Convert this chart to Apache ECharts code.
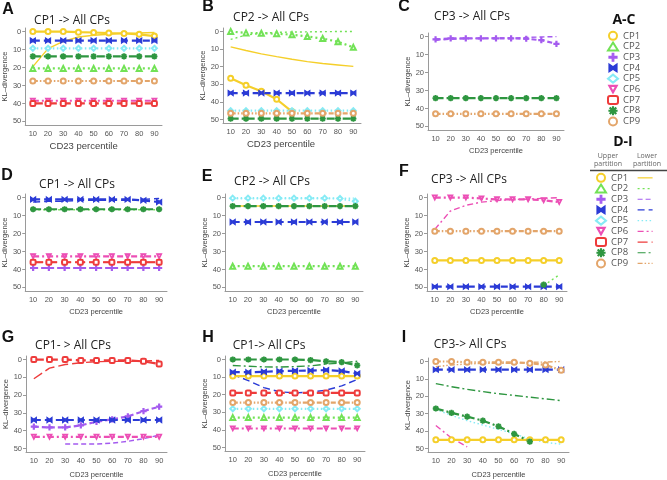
<!DOCTYPE html>
<html><head><meta charset="utf-8">
<script src="https://cdn.jsdelivr.net/npm/echarts@6/dist/echarts.min.js"></script>
<style>html,body{margin:0;padding:0;background:#fff}#c{width:667px;height:480px}</style>
</head><body><div id="c"></div>
<script>
// ---------- data ----------
const cats = ['10','20','30','40','50','60','70','80','90'];
const yTicks = [0,10,20,30,40,50];
const cpNames = ['CP1','CP2','CP3','CP4','CP5','CP6','CP7','CP8','CP9'];
const N = null;

// Panel A: CP1 -> All CPs
const A_up_CP1 = [0,0,0,0.3,0.5,0.8,1,1.5,2.5];
const A_low_CP1 = [19.5,9.5,5.5,3,2,1.5,1,0.8,0.5];
const A_up_CP4 = [5,5,5,5,5,5,5,5,5];
const A_up_CP5 = [9.3,9.3,9.3,9.3,9.3,9.3,9.3,9.3,9.3];
const A_up_CP8 = [13.8,13.8,13.8,13.8,13.8,13.8,13.8,13.8,13.8];
const A_up_CP2 = [20.5,20.5,20.5,20.5,20.5,20.5,20.5,20.5,20.5];
const A_up_CP9 = [27.5,27.5,27.5,27.5,27.5,27.5,27.5,27.5,27.5];
const A_up_CP6 = [38.5,38.5,38.5,38.5,38.5,38.5,38.5,38.5,38.5];
const A_up_CP7 = [40,40,40,40,40,40,40,40,40];

// Panel B: CP2 -> All CPs
const B_up_CP2 = [0,0.8,1,1.2,1.8,2.8,4,5.8,9];
const B_low_CP2 = [4.5,2,1,0.5,0.3,0.2,0.1,0,0];
const B_low_CP1 = [8.7,10.8,12.7,14.3,15.8,17.1,18.2,19,19.8];
const B_up_CP1 = [26.5,30.5,34,38.5,45.5,N,N,N,N];
const B_up_CP4 = [35,35,35,35,35,35,35,35,35];
const B_up_CP5 = [45,45,45,45,45,45,45,45,45];
const B_up_CP9 = [46.5,46.5,46.5,46.5,46.5,46.5,46.5,46.5,46.5];
const B_up_CP8 = [49.5,49.5,49.5,49.5,49.5,49.5,49.5,49.5,49.5];

// Panel C: CP3 -> All CPs
const C_up_CP3 = [1.5,1,1,1,1,1,1.2,2,4];
const C_low_CP3 = [2,1.5,1,1,0.8,0.8,0.5,0.2,0];
const C_up_CP8 = [34.3,34.3,34.3,34.3,34.3,34.3,34.3,34.3,34.3];
const C_up_CP9 = [43,43,43,43,43,43,43,43,43];

// Panel D: CP1 -> All CPs
const D_up_CP4 = [1,1,1,1,1,1,1,1.5,2.5];
const D_low_CP4 = [2.5,2,2,1.5,1.5,1.5,1.5,1,0.5];
const D_up_CP8 = [6.5,6.5,6.5,6.5,6.5,6.5,6.5,6.5,6.5];
const D_low_CP2 = [6.8,6.8,6.8,6.8,6.8,6.8,6.8,6.8,6.8];
const D_up_CP6 = [32.7,32.7,32.7,32.7,32.7,32.7,32.7,32.7,32.7];
const D_up_CP7 = [36,36,36,36,36,36,36,36,36];
const D_low_CP7 = [36,36,36,36,36,36,36,36,36];
const D_up_CP3 = [39.2,39.2,39.2,39.2,39.2,39.2,39.2,39.2,39.2];

// Panel E: CP2 -> All CPs
const E_up_CP5 = [0.3,0.3,0.3,0.3,0.3,0.3,0.3,0.5,2];
const E_low_CP5 = [0.6,0.6,0.5,0.5,0.5,0.5,0.5,0.4,0.3];
const E_low_CP1 = [4.7,4.7,4.7,4.7,4.7,4.7,4.7,4.7,4.7];
const E_up_CP8 = [4.7,4.7,4.7,4.7,4.7,4.7,4.7,4.7,4.7];
const E_up_CP4 = [13.6,13.6,13.6,13.6,13.6,13.6,13.6,13.6,13.6];
const E_up_CP2 = [38.2,38.2,38.2,38.2,38.2,38.2,38.2,38.2,38.2];

// Panel F: CP3 -> All CPs
const F_up_CP6 = [0,0,0,0.5,1,1,1,1.5,2.5];
const F_low_CP6 = [17.7,7.5,4.3,2.5,1.7,1.1,0.8,0.4,0];
const F_up_CP9 = [18.7,18.7,18.7,18.7,18.7,18.7,18.7,18.7,18.7];
const F_up_CP1 = [35,35,35,35,35,35,35,35,35];
const F_up_CP4 = [49.6,49.6,49.6,49.6,49.6,49.6,49.6,49.6,49.6];
const F_low_CP2 = [N,N,N,N,N,N,N,49,43];
const F_up_CP8 = [N,N,N,N,N,N,N,48.5,N];

// Panel G: CP1 -> All CPs
const G_up_CP7 = [0,0,0,0.5,0.5,0.5,0.5,1,2.5];
const G_low_CP7 = [10.8,4.8,2.8,1.8,1.2,1,1,0.8,0.5];
const G_up_CP4 = [34,34,34,34,34,34,34,34,34];
const G_up_CP3 = [37.7,38.2,38.2,37,35,33.6,32,29,26.5];
const G_up_CP6 = [43.5,43.5,43.5,43.5,43.5,43.5,43.5,43.5,43.5];
const G_low_CP3 = [N,N,47.5,47.5,47.5,47,46,44.5,42.5];

// Panel H: CP1 -> All CPs
const H_up_CP8 = [0,0,0,0,0,0.3,1,1.5,3.3];
const H_low_CP8 = [3.4,3.8,4.2,4.3,4,3.6,2.6,2,1];
const H_up_CP4 = [7.2,7.2,7,6.6,6.4,6.3,6,6.5,8];
const H_low_CP4 = [8.5,12,16,18.3,19,18.5,17.4,15,11.3];
const H_up_CP1 = [9.4,9.4,9.4,9.4,9.4,9.4,9.4,9.4,9.4];
const H_low_CP1 = [9.4,9.4,9.4,9.4,9.4,9.4,9.4,9.4,9.4];
const H_up_CP7 = [19,19,19,19,19,19,19,19,19];
const H_up_CP9 = [24.5,24.5,24.5,24.5,24.5,24.5,24.5,24.5,24.5];
const H_up_CP5 = [28,28,28,28,28,28,28,28,28];
const H_up_CP2 = [33,33,33,33,33,33,33,33,33];
const H_up_CP6 = [39.2,39.2,39.2,39.2,39.2,39.2,39.2,39.2,39.2];

// Panel I: CP3 -> All CPs
const I_up_CP9 = [0,0,0.5,0.5,0.5,0.5,1,2,5];
const I_low_CP9 = [3,2,1.5,1,1,1,0.5,0.3,0];
const I_up_CP4 = [4.7,4.7,4.7,4.7,4.7,4.7,4.7,4.7,4.7];
const I_low_CP8 = [12.7,14.5,16,17.3,18.5,19.5,20.5,21.5,22.5];
const I_up_CP8 = [27,29.5,31.7,34,37.3,41.6,46,N,N];
const I_low_CP5 = [27.5,31,34,36.5,39,41.5,44.5,46.5,47.5];
const I_up_CP1 = [45,45,45,45,45,45,45,45,45];
const I_low_CP1 = [45,45,45,45,45,45,45,45,45];
const I_low_CP6 = [36.8,44,49,N,N,N,N,N,N];

// ---------- styles ----------
const COL = ['#F5CF2A','#72E256','#A45BEF','#2B3BD6','#86EBF5','#EC4FB5','#EE3B3B','#2E9640','#E3A56A'];
const DASH = ['solid',[2,3],[5,3],[7,4],[1.5,2.5],[6,3,2,3],[10,4],[8,3,2,3],[5,2,1.5,2,1.5,2]];
const PLUS = 'path://M4,0H6V4H10V6H6V10H4V6H0V4H4Z';
const BOWTIE = 'path://M0,0L5,3.5L10,0V10L5,6.5L0,10Z';
const STAR = 'path://M4.4,0H5.6V10H4.4Z M0,4.4H10V5.6H0Z M1,1.8L1.8,1L9,8.2L8.2,9Z M8.2,1L9,1.8L1.8,9L1,8.2Z';
const INVTRI = 'path://M0,0H10L5,9Z M1.9,1.1L5,6.7L8.1,1.1Z';
const SYM = ['emptyCircle','emptyTriangle',PLUS,BOWTIE,'emptyDiamond',INVTRI,'emptyRoundRect',STAR,'emptyCircle'];

const grids = [
  {left:23, top:28, width:139, height:97},
  {left:223, top:28, width:138, height:95},
  {left:428, top:33, width:136, height:97},
  {left:25, top:194, width:142, height:97},
  {left:225, top:194, width:138, height:97},
  {left:427, top:194, width:140, height:97},
  {left:26, top:356, width:141, height:96},
  {left:225, top:356, width:140, height:95},
  {left:428, top:358, width:141, height:96}
];

const panels = [
  {up:{1:A_up_CP1,4:A_up_CP4,5:A_up_CP5,8:A_up_CP8,2:A_up_CP2,9:A_up_CP9,6:A_up_CP6,7:A_up_CP7}, low:{1:A_low_CP1}},
  {up:{2:B_up_CP2,1:B_up_CP1,4:B_up_CP4,5:B_up_CP5,9:B_up_CP9,8:B_up_CP8}, low:{2:B_low_CP2,1:B_low_CP1}},
  {up:{3:C_up_CP3,8:C_up_CP8,9:C_up_CP9}, low:{3:C_low_CP3}},
  {up:{4:D_up_CP4,8:D_up_CP8,6:D_up_CP6,7:D_up_CP7,3:D_up_CP3}, low:{4:D_low_CP4,2:D_low_CP2,7:D_low_CP7}},
  {up:{5:E_up_CP5,8:E_up_CP8,4:E_up_CP4,2:E_up_CP2}, low:{5:E_low_CP5,1:E_low_CP1}},
  {up:{6:F_up_CP6,9:F_up_CP9,1:F_up_CP1,4:F_up_CP4,8:F_up_CP8}, low:{6:F_low_CP6,2:F_low_CP2}},
  {up:{7:G_up_CP7,4:G_up_CP4,3:G_up_CP3,6:G_up_CP6}, low:{7:G_low_CP7,3:G_low_CP3}},
  {up:{8:H_up_CP8,4:H_up_CP4,1:H_up_CP1,7:H_up_CP7,9:H_up_CP9,5:H_up_CP5,2:H_up_CP2,6:H_up_CP6}, low:{8:H_low_CP8,4:H_low_CP4,1:H_low_CP1}},
  {up:{9:I_up_CP9,4:I_up_CP4,8:I_up_CP8,1:I_up_CP1}, low:{9:I_low_CP9,8:I_low_CP8,5:I_low_CP5,1:I_low_CP1,6:I_low_CP6}}
];

const xNameCfg = [
  {gap:16, size:9.5, pad:[0,20,0,0]},
  {gap:16, size:9.5, pad:[0,22,0,0]},
  {gap:17, size:7.5, pad:0},
  {gap:17, size:7.5, pad:0},
  {gap:17, size:7.5, pad:0},
  {gap:17, size:7.5, pad:0},
  {gap:19, size:7.5, pad:0},
  {gap:19, size:7.5, pad:0},
  {gap:19, size:7.5, pad:0}
];

const AX = '#9a9a9a';
const xAxes = grids.map((g,i)=>({
  gridIndex:i, type:'category', data:cats, boundaryGap:true,
  axisLine:{onZero:false, lineStyle:{color:AX}},
  axisTick:{alignWithLabel:true, length:3, lineStyle:{color:AX}},
  axisLabel:{interval:0, fontSize:7.5, color:'#555', margin:5, fontFamily:'Liberation Sans'},
  name:'CD23 percentile', nameLocation:'middle', nameGap:xNameCfg[i].gap,
  nameTextStyle:{fontSize:xNameCfg[i].size, color:'#444', fontFamily:'Liberation Sans', padding:xNameCfg[i].pad}
}));
const yAxes = grids.map((g,i)=>({
  gridIndex:i, type:'value', inverse:true, min:-2, max:52,
  axisLine:{show:true, onZero:false, lineStyle:{color:AX}},
  axisTick:{show:true, length:3, customValues:yTicks, lineStyle:{color:AX}},
  axisLabel:{customValues:yTicks, fontSize:7.5, color:'#555', margin:4, fontFamily:'Liberation Sans'},
  splitLine:{show:false},
  name:'KL\u2013divergence', nameLocation:'middle', nameGap:15,
  nameTextStyle:{fontSize:7.5, color:'#444', fontFamily:'Liberation Sans'}
}));

function mk(pi, cp, data, upper){
  const i = cp-1;
  return {
    type:'line', name: upper ? cpNames[i] : cpNames[i]+' lower',
    xAxisIndex:pi, yAxisIndex:pi, data:data,
    symbol: upper ? SYM[i] : 'none', symbolSize: upper ? 5 : 0,
    showSymbol: upper,
    lineStyle:{color:COL[i], width: upper ? 2.2 : 1.4, type:DASH[i]},
    itemStyle:{color:COL[i], borderColor:COL[i], borderWidth:1.2},
    connectNulls:false, silent:true, clip:true, z: upper?3:2
  };
}
const series = [];
panels.forEach((p,pi)=>{
  Object.keys(p.low).forEach(k=>series.push(mk(pi, +k, p.low[k], false)));
  Object.keys(p.up).forEach(k=>series.push(mk(pi, +k, p.up[k], true)));
});

const upLegendData = cpNames.map((n,i)=>({name:n, icon:SYM[i]}));
const lowLegendData = cpNames.map(n=>n+' lower');
const legTxt = {fontSize:9.5, color:'#555', fontFamily:'Open Sans', lineHeight:10.7};

function txt(t,x,y,font,color,align){
  return {type:'text', x:x, y:y, silent:true, style:{text:t, font:font, fill:color||'#222', textAlign:align||'center', textVerticalAlign:'middle'}};
}
const LF = 'bold 16px "Liberation Sans"';
const TF = '12px "Open Sans"';
const graphics = [
  txt('A',8,10,LF,'#111'), txt('B',208,7,LF,'#111'), txt('C',404,7,LF,'#111'),
  txt('D',7,176,LF,'#111'), txt('E',207,177,LF,'#111'), txt('F',404,172,LF,'#111'),
  txt('G',8,338,LF,'#111'), txt('H',208,338,LF,'#111'), txt('I',404,338,LF,'#111'),
  txt('CP1 -> All CPs',72,21,TF), txt('CP2 -> All CPs',271,18,TF), txt('CP3 -> All CPs',472,17,TF),
  txt('CP1 -> All CPs',77,185,TF), txt('CP2 -> All CPs',272,182,TF), txt('CP3 -> All CPs',469,180,TF),
  txt('CP1- > All CPs',73,346,TF), txt('CP1-> All CPs',269,346,TF), txt('CP3-> All CPs',470,345,TF),
  txt('A-C',624,20,'bold 14px "Open Sans"','#111'), txt('D-I',623,142,'bold 14px "Open Sans"','#111'),
  txt('Upper',608,156,'7px "Open Sans"','#666'), txt('partition',608,164,'7px "Open Sans"','#666'),
  txt('Lower',647,156,'7px "Open Sans"','#666'), txt('partition',647,164,'7px "Open Sans"','#666'),
  {type:'line', silent:true, shape:{x1:590,y1:170.5,x2:667,y2:170.5}, style:{stroke:'#444', lineWidth:1.5}}
];

const chart = echarts.init(document.getElementById('c'), null, {renderer:'canvas'});
chart.setOption({
  animation:false,
  backgroundColor:'#fff',
  grid:grids,
  xAxis:xAxes,
  yAxis:yAxes,
  legend:[
    {data:upLegendData, orient:'vertical', left:607, top:30.5, itemWidth:10, itemHeight:8, itemGap:0, textStyle:legTxt, selectedMode:false, padding:0, itemStyle:{borderWidth:1.2}},
    {data:upLegendData, orient:'vertical', left:595, top:172.5, itemWidth:10, itemHeight:8, itemGap:0, textStyle:legTxt, selectedMode:false, padding:0, itemStyle:{borderWidth:1.2}},
    {data:lowLegendData, orient:'vertical', left:637, top:172.5, itemWidth:15, itemHeight:8, itemGap:0, textStyle:legTxt, selectedMode:false, padding:0, formatter:()=>' ',
     itemStyle:{opacity:0}, lineStyle:{width:1.2}}
  ],
  graphic:graphics,
  series:series
});
</script></body></html>
